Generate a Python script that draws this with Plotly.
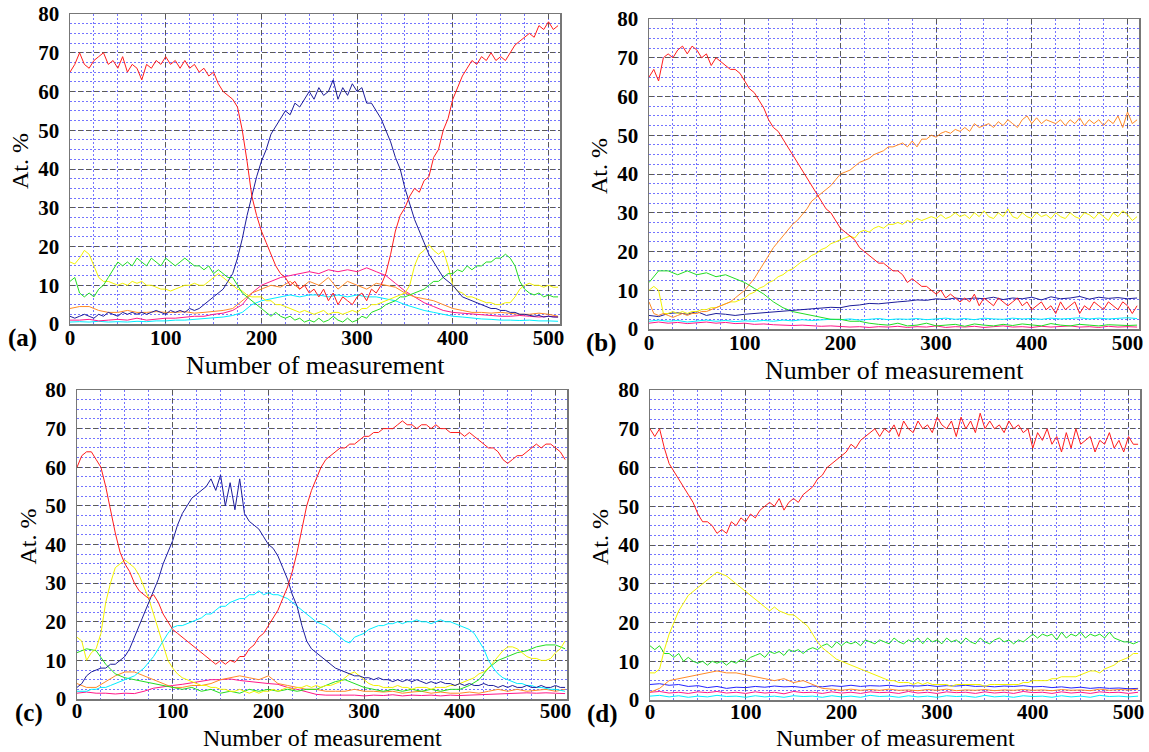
import plotly.graph_objects as go

# ---------------- data ----------------
X5 = list(range(0, 511, 5))     # measurement number, step 5
X10 = list(range(0, 511, 10))   # measurement number, step 10
X_TICKS = [0, 100, 200, 300, 400, 500]
Y_TICKS = [0, 10, 20, 30, 40, 50, 60, 70, 80]
PANEL_LABELS = ["(a)", "(b)", "(c)", "(d)"]
X_TITLE = "Number of measurement"
Y_TITLE = "At. %"

# ---- panel (a) ----
A_RED = [65, 67, 70, 67, 66, 68, 69, 70, 67, 68,
         66, 69, 65, 67, 66, 63, 67, 66, 68, 67,
         69, 67, 68, 66, 68, 66, 67, 65, 66, 64,
         65, 62, 60, 59, 58, 56, 50, 42, 33, 28,
         24, 21, 18, 15, 13, 12, 10, 11, 9, 10,
         8, 9, 7, 9, 6, 8, 5, 7, 6, 5,
         7, 8, 6, 9, 8, 10, 13, 18, 24, 28,
         30, 33, 35, 34, 37, 38, 43, 45, 50, 53,
         58, 61, 64, 66, 68, 67, 69, 68, 70, 68,
         69, 68, 70, 72, 73, 74, 75, 74, 77, 76,
         78, 76, 77]
A_BLUE = [2, 1.5, 2, 2.5, 2, 1.5, 2.5, 2, 3, 2.5,
          2, 3, 2.5, 3, 2.5, 3, 2.5, 3, 3.5, 3,
          2.5, 3.5, 3, 3.5, 3, 4, 3.5, 4, 5, 6,
          7, 8, 9, 11, 13, 17, 22, 28, 33, 38,
          42, 45, 49, 51, 53, 55, 54, 57, 56, 58,
          60, 58, 61, 59, 60, 63, 58, 61, 59, 62,
          60, 61, 57, 57, 55, 53, 50, 47, 43, 40,
          35, 31, 27, 24, 21, 18, 16, 14, 12, 11,
          10, 8.5, 7, 6.5, 6, 5.5, 5, 4.5, 4, 4,
          3.5, 3.5, 3, 3, 2.5, 2.5, 2.2, 2, 2.2, 1.8,
          2, 1.8, 1.8]
A_GREEN = [11, 12, 8, 7, 8, 7, 9, 10, 12, 14,
           16, 15, 16, 15, 17, 16, 15, 17, 16, 15,
           17, 16, 15, 16, 17, 16, 15, 15, 14, 15,
           13, 14, 13, 12, 12, 10, 8, 7, 6, 5,
           4, 3, 2, 3, 2, 1.5, 2, 1, 1.5, 0.5,
           1, 0.5, 1.5, 0.5, 1, 2, 1, 0.5, 1.5, 0.5,
           1, 2, 1.5, 3, 3.5, 4, 5, 5.5, 6, 7,
           7, 7.5, 8, 8.5, 9, 10, 11, 11, 12, 13,
           13, 14, 13.5, 15, 14, 15, 15, 16, 16, 17,
           17, 18, 17, 15, 11, 9, 8, 7.5, 8, 7,
           7.5, 7, 7]
A_YELLOW = [16, 15.5, 17, 19, 18, 15, 12, 11, 11, 10.5,
            10, 10.5, 10, 11, 10.5, 11, 10, 10, 9.5, 9,
            9, 8.5, 9, 9.5, 10, 10, 10.5, 10, 10, 11,
            12, 13, 12, 11, 10, 9, 8.5, 7.5, 7, 7,
            7, 6, 6, 5, 5, 4.5, 4, 3.5, 3, 3.5,
            3, 2.5, 3, 3.5, 2.5, 3, 3, 2.5, 3, 3.5,
            3, 4, 4, 5, 5, 5.5, 6, 6.5, 7, 7.5,
            8, 10, 15, 18, 19, 20.5, 19, 18, 19, 15,
            10, 8.5, 8, 7, 7, 6.5, 6, 5.5, 5.5, 5,
            5, 5.5, 5.5, 7, 9, 10, 10.5, 10, 10, 9.5,
            10, 9.5, 9.5]
A_MAGENTA = [1, 1, 1.2, 0.8, 1, 1.2, 1, 1.5, 1, 1.3,
             1.5, 1.5, 1.8, 2, 2, 2.5, 2.8, 3.5, 5, 8,
             10, 11, 12, 12.5, 13, 13.5, 13, 14, 13.5, 14,
             13.5, 14.5, 13.5, 12.5, 10.5, 8.5, 7, 5.5, 4.5, 3.5,
             3, 2.8, 2.5, 2.3, 2.2, 2, 2, 2.2, 2, 1.8,
             2, 1.8]
A_ORANGE = [4, 4.5, 4.5, 3.5, 3, 3, 3.5, 3, 3, 3.2,
            3, 3, 3.2, 2.8, 3, 3.2, 3.5, 4, 6, 8,
            9, 10, 9.5, 11, 9, 11, 10, 12, 9, 11,
            10, 9, 10.5, 10, 9.5, 8, 7, 6.5, 6, 5,
            4, 3.5, 3, 3, 2.8, 3, 2.8, 2.5, 2.5, 2.8,
            2.5, 2]
A_CYAN = [0.5, 0.6, 0.5, 0.7, 0.5, 0.6, 0.5, 0.7, 0.6, 0.8,
          0.8, 1, 1, 1.2, 1.3, 1.5, 1.8, 2.2, 3, 5,
          6, 6.5, 7, 7.5, 7, 7.5, 7.5, 7, 7.5, 7,
          7.5, 7, 7, 6.5, 6, 5, 4.2, 3.5, 3, 2.5,
          2, 1.8, 1.5, 1.3, 1.2, 1, 1, 0.9, 1, 0.8,
          0.8, 0.7]

# ---- panel (b) ----
B_RED = [65, 67, 64, 70, 71, 70, 72, 73, 71, 73,
         72, 70, 71, 68, 70, 69, 68, 67, 67, 66,
         64, 62, 61, 59, 57, 54, 52, 51, 49, 47,
         45, 43, 41, 39, 37, 35, 33, 31, 30, 28,
         26, 25, 24, 23, 21, 20, 19, 18, 17, 17,
         16, 15, 15, 14, 12, 13, 12, 11, 11, 10,
         9, 10, 8, 9, 8, 7, 8, 7, 9, 6,
         8, 7, 6, 8, 7, 6, 7, 8, 6, 7,
         5, 6, 7, 5, 6, 4, 7, 5, 6, 7,
         4, 6, 5, 7, 6, 5, 7, 6, 5, 7,
         6, 4, 6]
B_ORANGE = [7, 4, 3.5, 4, 3.5, 3, 3.5, 4, 3.5, 4,
            4, 4.5, 4.5, 5, 5.5, 6, 6.5, 7, 8, 9,
            10, 11.5, 13, 15, 17, 19, 21, 22.5, 24, 25.5,
            27, 28, 29.5, 31, 33, 34, 35, 36, 37, 38.5,
            40, 40.5, 41, 42, 43, 43.5, 44, 45, 45.5, 46,
            47, 47, 47.5, 48, 47, 48.5, 47, 49, 49, 50,
            49.5, 50.5, 51, 50.5, 51.5, 51, 52, 51, 53, 52,
            52.5, 53, 52, 53.5, 52.5, 54, 53, 52, 54, 55,
            53, 54.5, 53, 54, 53.5, 53, 54, 52.5, 54, 53,
            54.5, 52.5, 54, 53, 54, 52.5, 54, 53, 55, 52,
            56, 53, 54]
B_YELLOW = [10, 11, 10, 4, 4, 4.5, 4, 4.5, 4, 4.5,
            4.5, 5, 5, 5.5, 5.5, 6, 6.5, 7, 7, 7.5,
            8, 9, 9.5, 10.5, 11, 12, 12.5, 13.5, 14, 15,
            15.5, 16.5, 17.5, 18, 19, 19.5, 20.5, 21, 22, 22.5,
            23, 23.5, 24, 23.5, 25, 25.5, 25, 26, 26.5, 26,
            27, 27, 27.5, 27, 28, 27.5, 28.5, 28, 28.5, 29,
            28.5, 29.5, 28.5, 29, 30, 29, 29.5, 28.5, 30, 29,
            30.5, 29, 28.5, 30, 29, 31, 29, 28.5, 30, 29,
            28.5, 30, 29, 29.5, 28.5, 30, 29, 28.5, 30, 29,
            28.5, 30, 29.5, 28.5, 30, 29, 28, 30, 29, 30.5,
            29.5, 28, 29]
B_GREEN = [12, 15, 15, 14, 15, 14, 14.5, 13.5, 14, 13,
           12, 10.5, 9, 7, 5.5, 4.5, 4, 3.5, 3, 2.5,
           2.5, 2, 2, 1.5, 1.2, 1, 1.5, 0.8, 1, 1.5,
           0.8, 1, 1.2, 0.7, 1.3, 1, 0.8, 1.2, 0.9, 1.3,
           1, 0.8, 1.4, 1, 0.8, 1.2, 1, 0.8, 1.1, 1,
           0.9, 1]
B_BLUE = [3.5, 3.2, 4, 4.2, 3.8, 4.5, 3.5, 4, 3.8, 3.5,
          3.8, 4, 4.3, 4.5, 4.6, 4.8, 5, 5.2, 5.3, 5.6,
          5.5, 6, 6.2, 6.6, 6.5, 6.8, 7, 7.2, 7.5, 7.4,
          7.8, 7.6, 8, 7.7, 8, 7.8, 8.2, 7.6, 8, 7.8,
          8.2, 7.5, 8.3, 7.8, 8, 8.4, 7.7, 8.2, 7.9, 8.1,
          7.8, 8]
B_CYAN = [2, 2.3, 2, 2.2, 1.8, 2.1, 2.3, 2, 2.2, 1.9,
          2.1, 2, 2.2, 2, 2.3, 2.1, 2.4, 2.2, 2.3, 2.5,
          2.4, 2.6, 2.3, 2.5, 2.7, 2.4, 2.6, 2.5, 2.7, 2.4,
          2.6, 2.8, 2.5, 2.7, 2.4, 2.8, 2.6, 2.5, 2.8, 2.6,
          2.7, 2.5, 2.8, 2.6, 2.7, 2.9, 2.6, 2.8, 2.6, 2.7,
          2.9, 2.7]
B_MAGENTA = [1.5, 1.8, 1.5, 1.7, 1.4, 1.6, 1.8, 1.5, 1.7, 1.4,
             1.5, 1.2, 1.3, 1.1, 1, 0.9, 1, 0.8, 0.7, 0.8,
             0.6, 0.5, 0.6, 0.4, 0.6, 0.5, 0.7, 0.4, 0.6, 0.5,
             0.8, 0.4, 0.6, 0.5, 0.7, 0.4, 0.6, 0.8, 0.5, 0.6,
             0.4, 0.7, 0.5, 0.6, 0.8, 0.5, 0.6, 0.4, 0.7, 0.5,
             0.6, 0.5]

# ---- panel (c) ----
C_RED = [60, 63, 64, 64, 62, 60, 55, 49, 43, 38,
         35, 33, 30, 28, 27, 26, 27, 25, 22, 20,
         18, 17, 16, 15, 14, 13, 12, 11, 10, 9,
         10, 9, 10, 9.5, 11, 11, 13, 14, 16, 17,
         19, 21, 23, 26, 29, 33, 38, 44, 50, 54,
         57, 60, 62, 63, 64, 65, 65, 66, 66, 67,
         68, 68, 69, 69, 70, 70, 70, 71, 72, 71,
         71, 70, 71, 71, 70, 71, 70, 70, 69, 69,
         69, 68, 69, 68, 67, 66, 65, 65, 64, 62,
         61, 62, 63, 63, 64, 65, 66, 65, 66, 66,
         65, 64, 62]
C_BLUE = [3, 4, 6, 7, 7.5, 8, 8, 9, 9, 10,
          11, 13, 16, 19, 22, 25, 28, 31, 35, 38,
          41, 45, 48, 50, 52, 53, 54, 55, 57, 54,
          58, 50, 56, 49, 57, 48, 46, 45, 44, 42,
          40, 39, 37, 34, 31, 27, 24, 19, 15, 13,
          12, 11, 10, 9, 8, 7.5, 7, 6.5, 6, 6,
          5.5, 5.5, 5, 5.5, 5, 5, 4.5, 5, 4.5, 5,
          4.5, 5, 4.5, 4, 4.5, 4, 4.5, 4, 4, 3.5,
          4, 3.5, 4, 3.5, 3.5, 4, 3.5, 3.5, 3, 3.5,
          3, 3.5, 3, 3, 3.5, 3, 3, 3.5, 3, 3,
          3.5, 3, 3]
C_CYAN = [2, 2, 2, 2.5, 2.5, 3, 3, 3.5, 4, 4.5,
          5, 5.5, 6, 7, 8, 9.5, 11, 13, 15, 17,
          18.5, 19, 19, 19.5, 20, 20.5, 21, 22, 22, 23,
          24, 24, 25, 25.5, 26, 26, 27, 27, 28, 27,
          27.5, 27, 27, 26.5, 26, 25, 24, 23, 22, 21,
          20, 19.5, 19, 18, 17, 16, 15, 14.5, 16, 16.5,
          17, 18, 18.5, 19, 19, 19.5, 19.5, 20, 19.5, 20,
          20, 20.5, 20, 20, 19.5, 20, 20.5, 20, 20, 19.5,
          19, 18.5, 18, 17, 15, 13, 10, 8, 6.5, 5.5,
          5, 4.5, 4, 4, 3.5, 3.5, 3, 3, 2.8, 2.5,
          2.5, 2.3, 2]
C_YELLOW = [16, 15, 10, 12, 13, 17, 25, 30, 34, 35,
            36, 35, 34, 32, 29, 26, 22, 18, 14, 10,
            8, 6.5, 5.5, 5, 4.5, 4, 3.5, 3.5, 3, 3,
            2.5, 2.5, 2, 2, 2.5, 2, 1.5, 2, 1.5, 2,
            2, 2.5, 2, 2.5, 3, 2.5, 3, 3, 3.5, 3,
            3.5, 3, 3.5, 3.5, 4, 4.5, 5.5, 6.5, 7, 6,
            5, 4, 3.5, 3.5, 3, 3, 3, 3.5, 3, 3,
            2.5, 3, 3, 3, 2.5, 3, 3, 3, 3.5, 3.5,
            4, 4.5, 5, 5.5, 6.5, 7, 8, 9.5, 11, 12.5,
            13.5, 13.5, 13, 12, 11, 10.5, 10.5, 10, 10, 10.5,
            12, 13, 15]
C_GREEN = [12, 13, 12.5, 9, 6.5, 5.5, 5, 4.5, 4, 3.5,
           3, 2.5, 3, 2, 2.5, 1.5, 2, 1.5, 2.5, 2,
           2.5, 2, 2.5, 2, 2.5, 2.5, 3.5, 4.5, 5, 4,
           3, 2.5, 2, 2.5, 2, 2.5, 2, 2.5, 2, 2.5,
           2.5, 3.5, 5, 8, 10, 11, 12, 12.5, 13.5, 14,
           14, 13]
C_ORANGE = [4, 3, 3, 4.5, 6, 7, 7, 6, 5, 4,
            3, 3, 3.5, 3.5, 4, 5, 5.5, 6, 5.5, 5,
            6, 4, 3.5, 3, 2.5, 2.5, 2, 2, 2, 2.5,
            2, 2, 1.8, 2, 1.5, 1.8, 2, 1.5, 1.8, 1.5,
            1.5, 1.8, 1.5, 2, 2.5, 2, 2.5, 2, 2.2, 2.5,
            2, 2.5]
C_MAGENTA = [1.5, 1.8, 1.5, 1.5, 1.3, 1.5, 1.4, 2, 2.8, 3.2,
             3.5, 3.8, 4.2, 4.5, 5, 5, 5.2, 4.8, 4.5, 4.3,
             4, 3.8, 3, 2.5, 1.8, 1.2, 1, 1, 0.9, 1,
             0.8, 1, 0.9, 1.1, 0.8, 1, 0.9, 1, 0.8, 1,
             0.9, 1, 1.2, 1.2, 1.4, 1.5, 1.5, 1.6, 1.5, 1.6,
             1.5, 1.4]

# ---- panel (d) ----
D_RED = [70, 68, 70, 65, 61, 59, 57, 55, 53, 51,
         48, 46, 46, 45, 43, 44, 43, 46, 45, 47,
         46, 48, 47, 49, 50, 51, 50, 52, 49, 51,
         52, 51, 53, 54, 55, 57, 58, 60, 61, 62,
         63, 64, 66, 65, 67, 68, 69, 70, 68, 70,
         69, 71, 68, 72, 70, 69, 72, 70, 71, 69,
         73, 71, 70, 72, 68, 73, 70, 72, 69, 74,
         70, 72, 70, 71, 69, 72, 70, 71, 69, 70,
         65, 69, 67, 70, 66, 68, 64, 69, 65, 70,
         66, 67, 68, 64, 67, 66, 69, 65, 67, 64,
         68, 66, 66]
D_YELLOW = [7, 7, 8, 13, 17, 20, 23, 25, 27, 28,
            29, 30, 31, 32, 33, 32.5, 32, 31, 30, 29,
            28, 27, 26, 25, 24, 23, 24, 23, 22.5, 22,
            22, 21, 20, 19, 17, 15, 13.5, 12.5, 11.5, 10.5,
            10, 9.5, 9, 8.5, 8, 7.5, 7, 6.5, 6, 5.5,
            5, 5, 4.5, 4.5, 4.5, 4, 4.5, 4, 4.5, 4,
            4, 4, 4, 3.5, 4, 4, 4, 4, 4, 4,
            3.5, 4, 4, 4, 4, 4, 4, 4, 4.5, 4.5,
            5, 5, 5, 5, 5.5, 5.5, 6, 6, 6, 6,
            6.5, 7, 7.5, 7.5, 7, 8, 8.5, 9, 10, 10.5,
            11, 12, 12]
D_GREEN = [14, 13, 14, 12, 12, 11, 12, 10, 11, 10,
           9.5, 10, 9, 10, 9.5, 10, 9, 10, 9.5, 10.5,
           10, 11, 11.5, 12, 11, 12.5, 12, 12.5, 11.5, 13,
           12.5, 13, 12, 13, 13.5, 13, 14, 14.5, 13.5, 15,
           14, 15, 14.5, 15, 14, 15.5, 15, 14.5, 15.5, 15,
           14.5, 16, 15, 14.5, 15.5, 15, 16, 14.5, 16, 15,
           15.5, 14.5, 16, 15, 15.5, 14.5, 16, 15, 14.5, 16,
           15, 14.5, 15.5, 16, 15, 15.5, 14.5, 15.5, 15, 16,
           17, 16, 17, 16.5, 17, 15.5, 17.5, 16, 17, 16.5,
           17.5, 16, 17, 16.5, 17, 16, 17.5, 16, 15.5, 15,
           15, 14.5, 15]
D_ORANGE = [2, 3, 5, 5.5, 6, 6.5, 7, 7.5, 7, 7,
            6.5, 6, 5.5, 5, 5.5, 4.5, 5, 4, 3, 2.8,
            2.5, 2.8, 2.5, 2.7, 2.5, 2.8, 2.5, 2.6, 2.4, 2.7,
            2.5, 2.8, 2.4, 2.6, 2.5, 2.7, 2.4, 2.6, 2.5, 2.7,
            2.5, 2.6, 2.4, 2.7, 2.5, 2.6, 2.4, 2.8, 2.5, 2.7,
            2.6, 2.8]
D_BLUE = [4, 4.2, 3.8, 4, 3.5, 3.7, 3.2, 3.5, 3, 3.3,
          3.2, 3.5, 3.3, 3.6, 3.4, 3.5, 3.2, 3.6, 3.4, 3.7,
          3.5, 3.8, 3.5, 3.7, 3.6, 3.8, 3.5, 3.7, 3.6, 3.8,
          3.5, 3.7, 3.6, 3.8, 3.5, 3.6, 3.4, 3.6, 3.5, 3.7,
          3.4, 3.5, 3.2, 3.4, 3.1, 3.3, 3, 3.2, 3, 3.1,
          2.9, 3]
D_MAGENTA = [2, 2.2, 1.8, 2, 1.7, 2.1, 1.9, 2.2, 1.8, 2,
             1.7, 2.1, 1.8, 2, 1.6, 2.2, 1.9, 2, 1.7, 2.1,
             1.8, 2, 1.7, 2.1, 1.9, 2, 1.7, 2.2, 1.8, 2,
             1.7, 2.1, 1.9, 2, 1.7, 2.1, 1.8, 2, 1.7, 2.2,
             1.9, 2, 1.7, 2.1, 1.8, 2, 1.7, 2.1, 1.9, 2,
             1.7, 2]
D_CYAN = [1, 1.2, 0.8, 1.1, 0.7, 1, 0.8, 1.2, 0.9, 1,
          0.7, 1.1, 0.8, 1, 0.7, 1.1, 0.9, 1, 0.7, 1.1,
          0.8, 1, 0.7, 1.2, 0.9, 1, 0.7, 1.1, 0.8, 1,
          0.7, 1.1, 0.9, 1, 0.7, 1.2, 0.8, 1, 0.7, 1.1,
          0.9, 1, 0.7, 1.1, 0.8, 1, 0.7, 1.2, 0.9, 1,
          0.8, 1]

# ---------------- styles ----------------
COL = {
    "red": "#ff1c1c", "blue": "#1c1c9a", "bblue": "#2424ff", "green": "#22dd22",
    "yellow": "#f2f200", "orange": "#ff8a26", "magenta": "#ff1888", "cyan": "#00eeff",
}

PANEL_SERIES = [
    [(X10, A_CYAN, "cyan"), (X10, A_MAGENTA, "magenta"), (X10, A_ORANGE, "orange"),
     (X5, A_YELLOW, "yellow"), (X5, A_GREEN, "green"), (X5, A_BLUE, "blue"), (X5, A_RED, "red")],
    [(X10, B_MAGENTA, "magenta"), (X10, B_CYAN, "cyan"), (X10, B_GREEN, "green"),
     (X10, B_BLUE, "blue"), (X5, B_YELLOW, "yellow"), (X5, B_ORANGE, "orange"), (X5, B_RED, "red")],
    [(X10, C_MAGENTA, "magenta"), (X10, C_ORANGE, "orange"), (X10, C_GREEN, "green"),
     (X5, C_YELLOW, "yellow"), (X5, C_CYAN, "cyan"), (X5, C_BLUE, "blue"), (X5, C_RED, "red")],
    [(X10, D_CYAN, "cyan"), (X10, D_MAGENTA, "magenta"), (X10, D_BLUE, "bblue"),
     (X10, D_ORANGE, "orange"), (X5, D_GREEN, "green"), (X5, D_YELLOW, "yellow"), (X5, D_RED, "red")],
]

W, H = 1149, 752
# plot-area pixel boxes: (left, right, top, bottom)
BOXES = [(70, 560, 14, 324), (649, 1139, 19, 329), (77, 567, 390, 699), (650, 1140, 390, 700)]
TITLE_GAP = [41, 41, 39, 38]
TITLE_SIZE = [26, 26, 24, 24]
TICK_STANDOFF = [-6, -6, -8, -8]
SERIF = "Liberation Serif, Times New Roman, serif"

fig = go.Figure()
annotations = []
layout_axes = {}

for i, (series, box) in enumerate(zip(PANEL_SERIES, BOXES)):
    n = "" if i == 0 else str(i + 1)
    xref, yref = "x" + n, "y" + n
    for xs, ys, c in series:
        fig.add_trace(go.Scatter(x=xs, y=ys, mode="lines", xaxis=xref, yaxis=yref,
                                 line=dict(color=COL[c], width=1), showlegend=False,
                                 hoverinfo="skip"))
    L, R, T, B = box
    common = dict(showgrid=True, gridcolor="#5a5a5a", griddash="5px,3px", gridwidth=1,
                  showline=True, linecolor="#777777", linewidth=1.5, mirror=True,
                  zeroline=False, tickcolor="rgba(0,0,0,0)",
                  tickfont=dict(family=SERIF, size=21, color="black", weight="bold"),
                  layer="below traces", automargin=False, fixedrange=True)
    layout_axes["xaxis" + n] = dict(
        common, domain=[L / W, R / W], anchor=yref, range=[0, 512],
        ticks="", ticklabelstandoff=TICK_STANDOFF[i],
        tickmode="array", tickvals=X_TICKS,
        minor=dict(tickmode="linear", tick0=0, dtick=25, showgrid=True,
                   gridcolor="#7474ff", griddash="2px,2px", gridwidth=1))
    layout_axes["yaxis" + n] = dict(
        common, domain=[1 - B / H, 1 - T / H], anchor=xref, range=[0, 80],
        ticks="outside", ticklen=5,
        tickmode="array", tickvals=Y_TICKS,
        minor=dict(tickmode="linear", tick0=0, dtick=2.5, showgrid=True,
                   gridcolor="#7474ff", griddash="2px,2px", gridwidth=1))
    # axis titles and panel labels
    annotations.append(dict(text=X_TITLE, xref="paper", yref="paper",
                            x=(L + R) / 2 / W, y=1 - (B + TITLE_GAP[i]) / H, showarrow=False,
                            font=dict(family=SERIF, size=TITLE_SIZE[i], color="black"),
                            xanchor="center", yanchor="middle"))
    annotations.append(dict(text=Y_TITLE, xref="paper", yref="paper",
                            x=(L - 50) / W, y=1 - ((T + B) / 2 - 8) / H, showarrow=False,
                            textangle=-90, font=dict(family=SERIF, size=24, color="black"),
                            xanchor="center", yanchor="middle"))
    annotations.append(dict(text="<b>" + PANEL_LABELS[i] + "</b>", xref="paper", yref="paper",
                            x=(L - 48) / W, y=1 - (B + 14) / H, showarrow=False,
                            font=dict(family=SERIF, size=25, color="black"),
                            xanchor="center", yanchor="middle"))

fig.update_layout(width=W, height=H, margin=dict(l=0, r=0, t=0, b=0),
                  paper_bgcolor="white", plot_bgcolor="white",
                  annotations=annotations, **layout_axes)

fig.write_html("out.html", config={"displayModeBar": False, "staticPlot": True},
               post_script="document.body.style.margin='0';"
                           "document.body.style.overflow='hidden';")
